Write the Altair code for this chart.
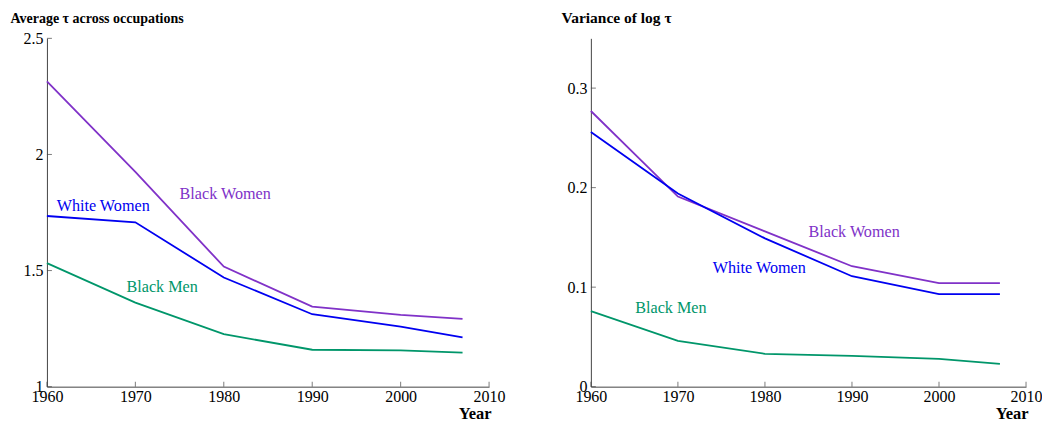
import altair as alt
import pandas as pd

years = [1960, 1970, 1980, 1990, 2000, 2007]
series = ["Black Women", "White Women", "Black Men"]
colors = ["#8032C8", "#0000F0", "#00966A"]

avg_black_women = [2.315, 1.925, 1.517, 1.345, 1.309, 1.292]
avg_white_women = [1.735, 1.708, 1.470, 1.312, 1.259, 1.212]
avg_black_men = [1.532, 1.362, 1.226, 1.159, 1.156, 1.147]

var_black_women = [0.277, 0.191, 0.156, 0.121, 0.104, 0.104]
var_white_women = [0.256, 0.194, 0.149, 0.111, 0.093, 0.093]
var_black_men = [0.076, 0.046, 0.033, 0.031, 0.028, 0.023]

x_ticks = [1960, 1970, 1980, 1990, 2000, 2010]
avg_ticks = [1, 1.5, 2, 2.5]
var_ticks = [0, 0.1, 0.2, 0.3]

# label anchors (year, value) for in-plot series labels
avg_label_year = [1975.0, 1961.1, 1969.0]
avg_label_val = [1.829, 1.778, 1.430]
var_label_year = [1985.0, 1974.0, 1965.1]
var_label_val = [0.155, 0.119, 0.079]

H = 349
FONT = "Liberation Serif, Times New Roman, serif"
AXIS_COLOR = "#444444"


def long_df(vals):
    rows = []
    for name, v in zip(series, vals):
        for y, val in zip(years, v):
            rows.append({"year": y, "value": val, "series": name})
    return pd.DataFrame(rows)


color_scale = alt.Scale(domain=series, range=colors)


def panel(vals, lab_year, lab_val, yticks, ydomain, title, title_x, title_size, W):
    df = long_df(vals)
    xs = alt.Scale(domain=[1960, 2010], nice=False, zero=False)
    ys = alt.Scale(domain=ydomain, nice=False, zero=False)
    lines = alt.Chart(df).mark_line(strokeWidth=1.8).encode(
        x=alt.X("year:Q", scale=xs,
                axis=alt.Axis(values=x_ticks, format="d", ticks=False, grid=False,
                              title="Year", titleAnchor="end", titleAlign="right",
                              titleX=W + 2, titleY=32, titleBaseline="alphabetic",
                              titleFontSize=16.5, titleFontWeight="bold",
                              titleFont=FONT, labelFont=FONT,
                              labelPadding=2, labelFontSize=16,
                              domainColor=AXIS_COLOR, labelColor="black",
                              labelFlush=False)),
        y=alt.Y("value:Q", scale=ys,
                axis=alt.Axis(values=yticks, format="~g", ticks=False, grid=False,
                              title=title, titleAngle=0, titleAlign="left",
                              titleX=title_x, titleY=-16, titleBaseline="alphabetic",
                              titleFontSize=title_size, titleFontWeight="bold",
                              titleFont=FONT, labelFont=FONT,
                              labelPadding=4, labelFontSize=16,
                              domainColor=AXIS_COLOR, labelColor="black",
                              labelFlush=False)),
        color=alt.Color("series:N", scale=color_scale, legend=None),
        detail="series:N",
    )
    lab_df = pd.DataFrame({"series": series, "year": lab_year, "value": lab_val})
    labels = alt.Chart(lab_df).mark_text(align="left", baseline="middle",
                                         fontSize=16.2, font=FONT).encode(
        x=alt.X("year:Q", scale=xs), y=alt.Y("value:Q", scale=ys),
        text="series:N",
        color=alt.Color("series:N", scale=color_scale, legend=None),
    )
    xt = alt.Chart(pd.DataFrame({"t": x_ticks})).mark_tick(
        orient="vertical", size=5, thickness=1, color=AXIS_COLOR).encode(
        x=alt.X("t:Q", scale=xs), y=alt.value(H - 2.5))
    yt = alt.Chart(pd.DataFrame({"t": yticks})).mark_tick(
        orient="horizontal", size=5, thickness=1, color=AXIS_COLOR).encode(
        y=alt.Y("t:Q", scale=ys), x=alt.value(2.5))
    return alt.layer(lines, labels, xt, yt).properties(width=W, height=H)


left = panel([avg_black_women, avg_white_women, avg_black_men],
             avg_label_year, avg_label_val, avg_ticks, [1, 2.5],
             "Average τ across occupations", -37, 14, 443)
right = panel([var_black_women, var_white_women, var_black_men],
              var_label_year, var_label_val, var_ticks, [0, 0.35],
              "Variance of log τ", -30, 15.5, 436)

chart = alt.hconcat(left, right, spacing=56).properties(
    padding={"left": 2, "top": 2, "right": 0, "bottom": 2}
).configure(background="white", font=FONT).configure_view(stroke=None)

chart.save("out.html", embed_options={"renderer": "svg", "actions": False})
